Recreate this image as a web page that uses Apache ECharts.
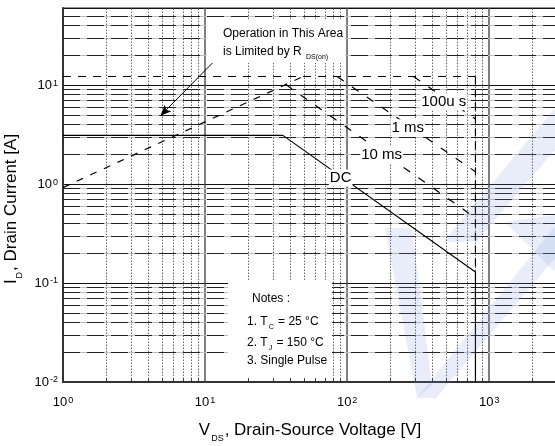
<!DOCTYPE html>
<html><head><meta charset="utf-8">
<script src="https://cdn.jsdelivr.net/npm/echarts@6/dist/echarts.min.js"></script>
<style>html,body{margin:0;padding:0;background:#fff}#c{width:555px;height:446px}</style>
</head><body><div id="c"></div>
<script>
// ---- axis / grid values ----
const xRange = [1, 3000];
const yRange = [0.01, 60];
const xMinor = [2,3,4,5,6,7,8,9,20,30,40,50,60,70,80,90,200,300,400,500,600,700,800,900,2000];
const yMinor = [0.02,0.03,0.04,0.05,0.06,0.07,0.08,0.09,0.2,0.3,0.4,0.5,0.6,0.7,0.8,0.9,2,3,4,5,6,7,8,9,20,30,40,50];

// ---- curves (V_DS [V], I_D [A]) ----
const idmV = [1, 800];        const idmI = [12.2, 12.2];
const rdsV = [1, 49];         const rdsI = [0.92, 12.2];
const us100V = [293, 800];    const us100I = [12.2, 4.55];
const ms1V = [85, 800];       const ms1I = [12.2, 1.33];
const ms10V = [37, 800];      const ms10I = [10.1, 0.455];
const dcV = [1, 35.3, 800];   const dcI = [3.1, 3.1, 0.129];
const bvV = [800, 800];       const bvDashI = [12.2, 0.129];  const bvSolidI = [0.129, 0.01];

// ---- curve labels ----
const labelTexts = ['100u s', '1 ms', '10 ms', 'DC'];
const labelV = [479, 267, 175, 90];
const labelI = [6.77, 3.70, 1.97, 1.15];

// ---- arrow (Rds(on) annotation) ----
const arrowV = [11.5, 4.85];
const arrowI = [17.2, 4.89];

const FONT = 'Liberation Sans, Arial, Helvetica, sans-serif';
const zip = (a, b) => a.map((v, i) => [v, b[i]]);

function powLabel(v) {
  const l = Math.log10(v);
  const e = Math.round(l);
  if (Math.abs(l - e) > 1e-6) return '';
  return '{b|10}{s|' + e + '}';
}
const labelRich = {
  b: {fontSize: 13, fontFamily: FONT, color: '#000', verticalAlign: 'bottom', lineHeight: 13},
  s: {fontSize: 9, fontFamily: FONT, color: '#000', verticalAlign: 'top', lineHeight: 9, padding: [0, 0, 8, 1]}
};
const nameRich = {
  n: {fontSize: 17, fontFamily: FONT, color: '#000', verticalAlign: 'top', lineHeight: 18},
  sub: {fontSize: 9, fontFamily: FONT, color: '#000', verticalAlign: 'top', lineHeight: 9, padding: [12, 1, 0, 1]}
};
const noteRich = {
  n: {fontSize: 12, fontFamily: FONT, fill: '#000', verticalAlign: 'top', lineHeight: 13},
  sub: {fontSize: 7, fontFamily: FONT, fill: '#000', verticalAlign: 'top', lineHeight: 7, padding: [8, 1, 0, 1]}
};

function curve(name, v, i, type, dash, z) {
  return {
    name, type: 'line', data: zip(v, i), showSymbol: false, symbol: 'none', silent: true,
    animation: false, z: z || 5,
    lineStyle: {color: '#000', width: 1.2, type: type === 'dashed' ? dash : 'solid'}
  };
}
const WM = 'rgba(110,145,215,0.16)';

const chart = echarts.init(document.getElementById('c'), null, {renderer: 'canvas'});
const tickLen = Math.pow(10, 3.3 / 98.9); // short bottom ticks (~3px)

const option = {
  animation: false,
  backgroundColor: '#fff',
  grid: {left: 63, right: -2, top: 8, bottom: 64, containLabel: false, outerBoundsMode: 'none',
    show: true, borderColor: '#222', borderWidth: 1, backgroundColor: 'transparent'},
  xAxis: {
    type: 'log', logBase: 10, min: xRange[0], max: xRange[1],
    name: '{n|V}{sub|DS}{n|, Drain-Source Voltage [V]}',
    nameLocation: 'middle', nameGap: 40,
    nameTextStyle: {rich: nameRich},
    axisLine: {show: true, lineStyle: {color: '#333', width: 2}},
    axisTick: {show: false},
    minorTick: {show: false},
    axisLabel: {formatter: powLabel, rich: labelRich, margin: 14, showMaxLabel: false, hideOverlap: false},
    splitLine: {show: true, lineStyle: {color: '#555', width: 1.5}}
  },
  yAxis: {
    type: 'log', logBase: 10, min: yRange[0], max: yRange[1],
    name: '{n|I}{sub|D}{n|, Drain Current [A]}',
    nameLocation: 'middle', nameGap: 32, nameRotate: 90,
    nameTextStyle: {padding: [0, 28, 0, 0], rich: nameRich},
    axisLine: {show: true, lineStyle: {color: '#333', width: 2}},
    axisTick: {show: false},
    axisLabel: {formatter: powLabel, rich: labelRich, margin: 5, showMaxLabel: false, hideOverlap: false},
    splitLine: {show: true, lineStyle: {color: '#111', width: 1}}
  },
  graphic: [
    // faint watermark shapes
    {type: 'polygon', z: 30, silent: true, shape: {points: [[385, 228], [412, 228], [432, 385], [417, 398]]}, style: {fill: WM}},
    {type: 'polygon', z: 30, silent: true, shape: {points: [[417, 398], [436, 398], [555, 258], [555, 226]]}, style: {fill: WM}},
    {type: 'polygon', z: 30, silent: true, shape: {points: [[443, 242], [476, 242], [555, 150], [555, 108]]}, style: {fill: WM}},
    {type: 'polygon', z: 30, silent: true, shape: {points: [[505, 222], [555, 215], [555, 272]]}, style: {fill: WM}},
    {type: 'rect', z: 10, shape: {x: 207, y: 20, width: 138, height: 43}, style: {fill: '#fff'}},
    {type: 'rect', z: 10, shape: {x: 228, y: 281, width: 104, height: 97}, style: {fill: '#fff'}},
    {type: 'text', z: 11, x: 223, y: 34, style: {text: 'Operation in This Area', fontSize: 12, fontFamily: FONT, fill: '#000', verticalAlign: 'middle'}},
    {type: 'text', z: 11, x: 223, y: 52, style: {text: '{n|is Limited by R }{sub|DS(on)}', verticalAlign: 'middle', rich: noteRich}},
    {type: 'text', z: 11, x: 252, y: 299, style: {text: 'Notes :', fontSize: 12, fontFamily: FONT, fill: '#000', verticalAlign: 'middle'}},
    {type: 'text', z: 11, x: 247, y: 322, style: {text: '{n|1. T}{sub|C}{n| = 25 °C}', verticalAlign: 'middle', rich: noteRich}},
    {type: 'text', z: 11, x: 247, y: 343, style: {text: '{n|2. T}{sub|J}{n| = 150 °C}', verticalAlign: 'middle', rich: noteRich}},
    {type: 'text', z: 11, x: 247, y: 361, style: {text: '3. Single Pulse', fontSize: 12, fontFamily: FONT, fill: '#000', verticalAlign: 'middle'}}
  ],
  series: [
    // minor grid: horizontal light base
    {type: 'line', data: [], silent: true, z: 1, markLine: {silent: true, symbol: 'none', animation: false, label: {show: false},
      lineStyle: {color: '#bdbdbd', width: 1, type: 'solid'}, data: yMinor.map(v => ({yAxis: v}))}},
    // minor grid: horizontal dark dashes
    {type: 'line', data: [], silent: true, z: 1, markLine: {silent: true, symbol: 'none', animation: false, label: {show: false},
      lineStyle: {color: '#222', width: 1, type: [17, 7]}, data: yMinor.map(v => ({yAxis: v}))}},
    // minor grid: vertical dotted
    {type: 'line', data: [], silent: true, z: 1, markLine: {silent: true, symbol: 'none', animation: false, label: {show: false},
      lineStyle: {color: '#666', width: 1, type: [1.5, 1.5]}, data: xMinor.map(v => ({xAxis: v}))}},
    // bottom minor ticks
    {type: 'line', data: [], silent: true, z: 20, markLine: {silent: true, symbol: 'none', animation: false, label: {show: false},
      lineStyle: {color: '#333', width: 1, type: 'solid'}, data: xMinor.map(v => [{coord: [v, yRange[0]]}, {coord: [v, yRange[0] * tickLen]}])}},
    curve('IDM', idmV, idmI, 'dashed', [8, 7]),
    curve('RDS(on) limit', rdsV, rdsI, 'dashed', [7, 8]),
    curve('100us', us100V, us100I, 'dashed', [8, 10]),
    curve('1ms', ms1V, ms1I, 'dashed', [8, 10]),
    curve('10ms', ms10V, ms10I, 'dashed', [8, 10]),
    curve('DC', dcV, dcI, 'solid'),
    curve('BVdss dashed', bvV, bvDashI, 'dashed', [8, 5]),
    curve('BVdss', bvV, bvSolidI, 'solid'),
    // arrow
    {type: 'line', data: [], silent: true, z: 6, markLine: {silent: true, symbol: ['none', 'arrow'], symbolSize: [7, 11], animation: false,
      label: {show: false}, lineStyle: {color: '#000', width: 1, type: 'solid'},
      data: [[{coord: [arrowV[0], arrowI[0]]}, {coord: [arrowV[1], arrowI[1]]}]]}},
    // curve labels
    {type: 'scatter', z: 8, silent: true, symbolSize: 0, itemStyle: {opacity: 1},
      data: labelV.map((v, i) => ({value: [v, labelI[i]], name: labelTexts[i]})),
      label: {show: true, position: 'inside', formatter: p => p.name, fontSize: 15, fontFamily: FONT, color: '#000',
        opacity: 1, textBorderWidth: 0, backgroundColor: '#fff', padding: [1, 1]}}
  ]
};
chart.setOption(option);
</script></body></html>
